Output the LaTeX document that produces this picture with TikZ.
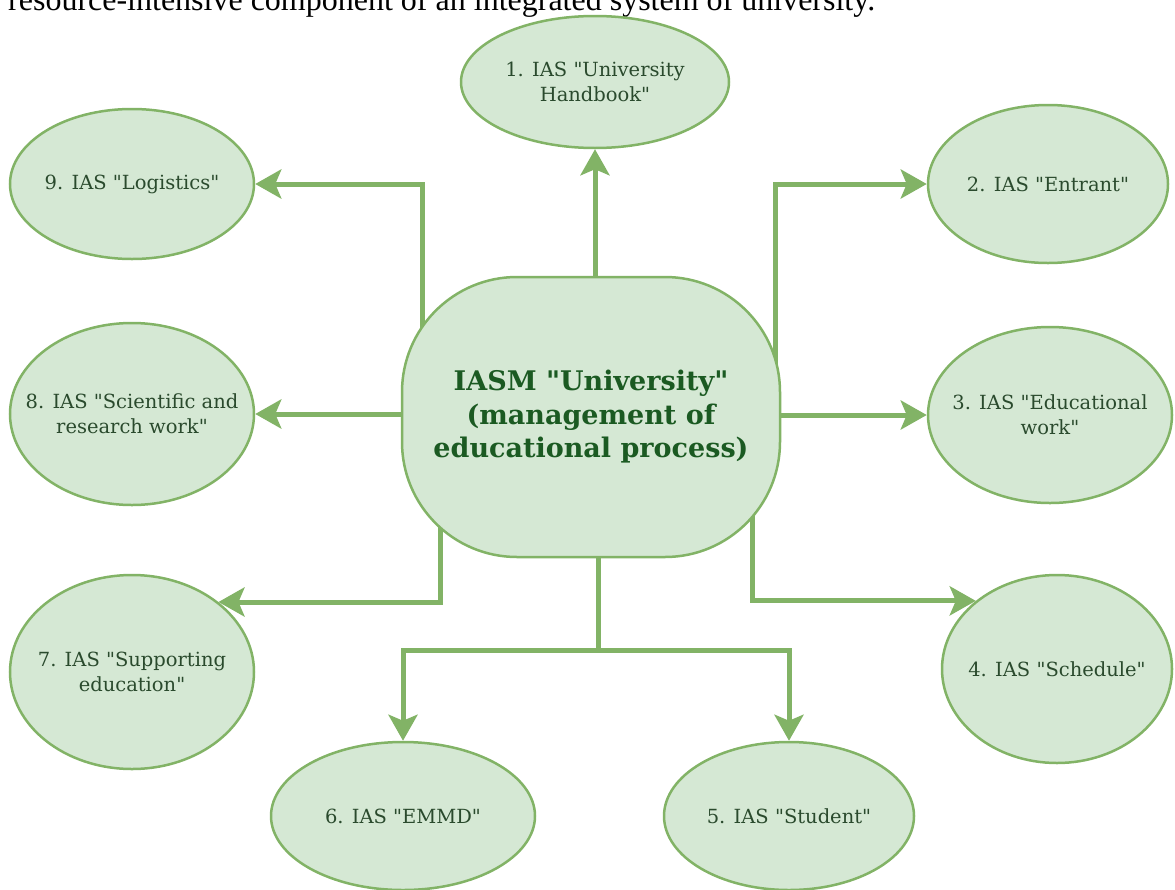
\documentclass[tikz,border=0pt]{standalone}
\usepackage{fontspec}
\newfontfamily\nodefont{DejaVu Serif}
\newfontfamily\capfont{Liberation Serif}
\usetikzlibrary{shapes.geometric,arrows.meta,backgrounds}
\definecolor{gfill}{HTML}{D5E8D4}
\definecolor{gline}{HTML}{82B366}
\definecolor{gtext}{HTML}{2A4A2D}
\definecolor{ctext}{HTML}{1B5A22}
\begin{document}
\begin{tikzpicture}[x=1pt,y=-1pt,
  lab/.style={align=center, text=gtext, inner sep=0pt, font=\nodefont\fontsize{19.5}{25}\selectfont},
  ell/.style={ellipse, draw=gline, fill=gfill, line width=2.5pt, inner sep=0pt, label={[lab]center:{#1}}},
  arr/.style={draw=gline, line width=5pt, -{Stealth[length=26pt,width=29pt,inset=6pt]}},
  link/.style={draw=gline, line width=5pt}]
\useasboundingbox (0,0) rectangle (1175,889);
\begin{scope}
\clip (0,0) rectangle (1175,889);
\node[anchor=base west, inner sep=0pt, font=\capfont\fontsize{32}{38}\selectfont] (cap) at (8,10) {resource-intensive component of an integrated system of university.};
\node[draw=gline, fill=gfill, line width=2.5pt, rounded corners=115pt, minimum width=378pt, minimum height=280pt, inner sep=0pt, align=center, text=ctext, font=\nodefont\bfseries\fontsize{27}{33.5}\selectfont] (c) at (591,417) {IASM "University"\\(management of\\educational process)};
\node[ell={1. IAS "University\\Handbook"}, minimum width=268pt, minimum height=132pt] (n1) at (595,82) {};
\node[ell={2. IAS "Entrant"}, minimum width=240pt, minimum height=158pt] (n2) at (1048,184) {};
\node[ell={3. IAS "Educational\\work"}, minimum width=244pt, minimum height=176pt] (n3) at (1050,415) {};
\node[ell={4. IAS "Schedule"}, minimum width=230pt, minimum height=188pt] (n4) at (1057,669) {};
\node[ell={5. IAS "Student"}, minimum width=250pt, minimum height=148pt] (n5) at (789,816) {};
\node[ell={6. IAS "EMMD"}, minimum width=264pt, minimum height=148pt] (n6) at (403,816) {};
\node[ell={7. IAS "Supporting\\education"}, minimum width=244pt, minimum height=194pt] (n7) at (132,672) {};
\node[ell={8. IAS "Scientific and\\research work"}, minimum width=244pt, minimum height=182pt] (n8) at (132,414) {};
\node[ell={9. IAS "Logistics"}, minimum width=244pt, minimum height=150pt] (n9) at (132,184) {};
\coordinate (bus) at (598,650);
\end{scope}
\begin{pgfonlayer}{background}
\draw[arr] (c.center -| n1.south) -- (n1.south);
\draw[arr] ([xshift=184pt]c.center) |- (n2);
\draw[arr] (c.center |- n3) -- (n3);
\draw[arr] ([xshift=161pt]c.center) |- (n4.140);
\draw[link] ([xshift=7pt]c.center) -- (bus);
\draw[arr] (bus) -| (n5.north);
\draw[arr] (bus) -| (n6.north);
\draw[arr] ([xshift=-151pt]c.center) |- (n7.39);
\draw[arr] (c.center |- n8) -- (n8);
\draw[arr] ([xshift=-169pt]c.center) |- (n9);
\end{pgfonlayer}
\end{tikzpicture}
\end{document}
